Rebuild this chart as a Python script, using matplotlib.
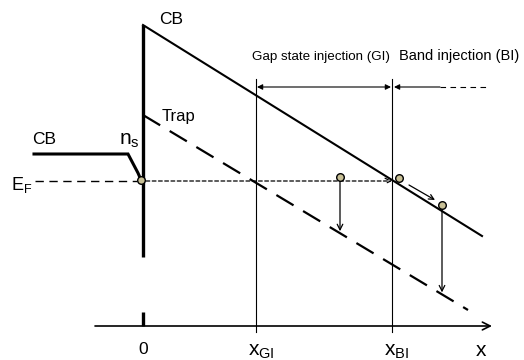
import matplotlib
matplotlib.use('Agg')
import matplotlib.pyplot as plt
import numpy as np

plt.rcParams['font.family'] = ['Liberation Sans', 'DejaVu Sans']
plt.rcParams['mathtext.fontset'] = 'custom'
plt.rcParams['mathtext.rm'] = 'Liberation Sans'
plt.rcParams['mathtext.it'] = 'Liberation Sans'

# positions in the sketch (pixel units, y downwards)
x_wall = 143
x_gi = 256
x_bi = 392
axis_y = 326
ef_y = 181

wall_y = [25, 257]
wall_stub_y = [312, axis_y]
cb_x = [143, 482]
cb_y = [25, 236]
trap_x = [143, 468]
trap_y = [115, 310]
left_cb_x = [34, 128, 138, 141]
left_cb_y = [154, 154, 173, 180]

# electrons (circles)
el_x = [141, 340, 399, 442]
el_y = [180, 177, 178, 205]

tick_pos = [x_wall, x_gi, x_bi, 483]
tick_txt = ['0', r'$\mathrm{x}_{\mathrm{GI}}$', r'$\mathrm{x}_{\mathrm{BI}}$', r'$\mathrm{x}$']

fig = plt.figure(figsize=(5.24, 3.6), dpi=100)
ax = fig.add_axes([0, 0, 1, 1])
ax.set_xlim(0, 524)
ax.set_ylim(360, 0)
ax.axis('off')

# barrier wall
ax.plot([x_wall, x_wall], wall_y, 'k-', lw=2.4, solid_capstyle='butt')
ax.plot([x_wall, x_wall], wall_stub_y, 'k-', lw=2.4, solid_capstyle='butt')

# conduction band (right) and trap level
ax.plot(cb_x, cb_y, 'k-', lw=1.5)
ax.plot(trap_x, trap_y, color='k', lw=1.6, dashes=(9, 5))

# left side CB
ax.plot(left_cb_x, left_cb_y, 'k-', lw=2.2, solid_joinstyle='miter')

# Fermi level
ax.plot([35, 137], [ef_y, ef_y], color='k', lw=1.0, dashes=(6, 4))
ax.annotate('', xy=(392, ef_y), xytext=(146, ef_y),
            arrowprops=dict(arrowstyle='->', lw=0.9, linestyle=(0, (3, 2)), color='k',
                            shrinkA=0, shrinkB=0))

# x axis
ax.annotate('', xy=(492, axis_y), xytext=(95, axis_y),
            arrowprops=dict(arrowstyle='->', lw=1.2, color='k', shrinkA=0, shrinkB=0,
                            mutation_scale=14))

# region boundaries
for xv in [x_gi, x_bi]:
    ax.plot([xv, xv], [79, 332], 'k-', lw=0.8)

# GI region arrow
ax.annotate('', xy=(x_bi - 1, 87), xytext=(x_gi + 1, 87),
            arrowprops=dict(arrowstyle='<|-|>', lw=0.8, color='k', shrinkA=0, shrinkB=0,
                            mutation_scale=8))
# BI region arrow
ax.annotate('', xy=(x_bi + 2, 87), xytext=(440, 87),
            arrowprops=dict(arrowstyle='-|>', lw=0.8, color='k', shrinkA=0, shrinkB=0,
                            mutation_scale=8))
ax.plot([440, 490], [87, 87], color='k', lw=0.8, dashes=(5, 4))

# transitions to trap
for xe, ye in zip(el_x[1:], el_y[1:]):
    if xe == 399:
        continue
    yt = np.interp(xe, trap_x, trap_y)
    ax.annotate('', xy=(xe, yt - 2), xytext=(xe, ye + 4),
                arrowprops=dict(arrowstyle='->', lw=0.9, color='k', shrinkA=0, shrinkB=0,
                                mutation_scale=10))

# drift along CB
ax.annotate('', xy=(435, 200), xytext=(409, 185),
            arrowprops=dict(arrowstyle='->', lw=0.9, color='k', shrinkA=0, shrinkB=0,
                            mutation_scale=9))

ax.scatter(el_x, el_y, s=30, facecolor='#c8c096', edgecolor='k', linewidth=1.0, zorder=5)

# labels
ax.text(159, 19, 'CB', fontsize=12.5, va='center', ha='left')
ax.text(32, 139, 'CB', fontsize=12.5, va='center', ha='left')
ax.text(162, 117, 'Trap', fontsize=12, va='center', ha='left')
ax.text(119, 141, r'$\mathrm{n}_{\mathrm{s}}$', fontsize=15, va='center', ha='left')
ax.text(11, 185, r'$\mathrm{E}_{\mathrm{F}}$', fontsize=13, va='center', ha='left')
ax.text(252, 57, 'Gap state injection (GI)', fontsize=9.6, va='center', ha='left')
ax.text(399, 56, 'Band injection (BI)', fontsize=10.5, va='center', ha='left')

ax.text(tick_pos[0], 349, tick_txt[0], fontsize=12.5, ha='center', va='center')
for xp, t in zip(tick_pos[1:], tick_txt[1:]):
    ax.text(xp - 8, 356, t, fontsize=15, ha='left', va='baseline')

fig.savefig('out.png', dpi=100)
